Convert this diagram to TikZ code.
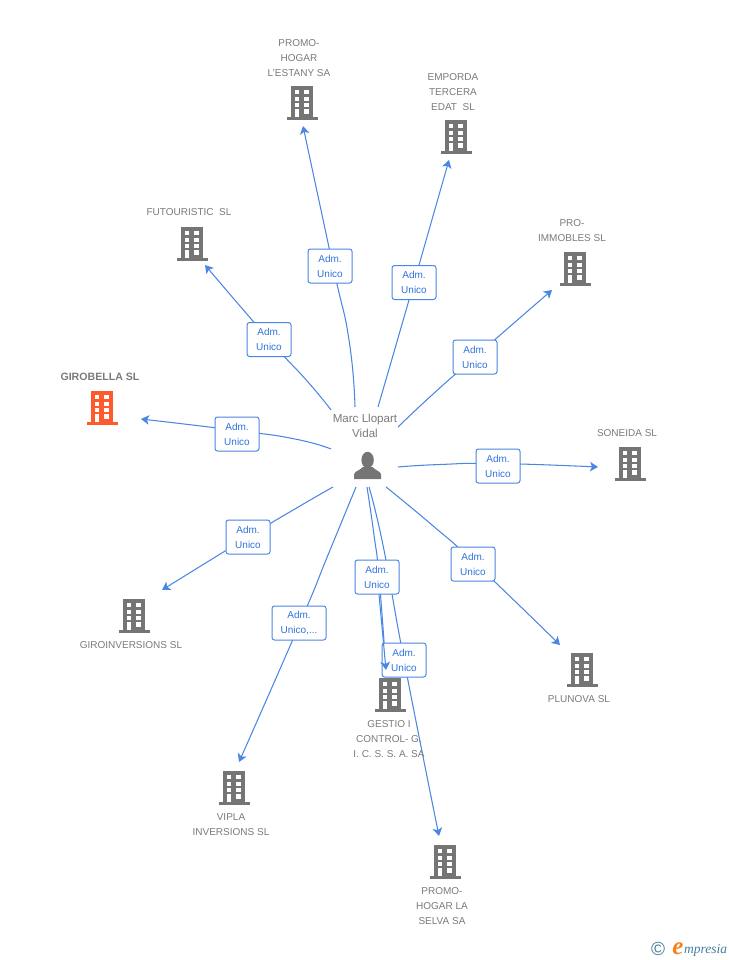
\documentclass[tikz,border=0pt]{standalone}
\usepackage{fontspec}
\setmainfont{Liberation Sans}
\newfontfamily\logofont{Liberation Serif}
\usetikzlibrary{arrows.meta,backgrounds}
\definecolor{linkblue}{HTML}{4A86E4}
\definecolor{admblue}{HTML}{2F74DC}
\definecolor{iconGray}{HTML}{757575}
\definecolor{textGray}{HTML}{7A7A7A}
\definecolor{hotOrange}{HTML}{FF5A2C}
\definecolor{logoTeal}{HTML}{3F7F98}
\definecolor{logoOrange}{HTML}{F58220}
\tikzset{
  conn/.style={draw=linkblue,line width=1.05pt},
  tipped/.style={-{Stealth[length=8pt,width=9.5pt,inset=2pt]}},
  admbox/.style={draw=linkblue,line width=1pt,rounded corners=2.5pt,fill=white,text=admblue,
    align=center,inner sep=0pt,minimum height=34pt,font=\fontsize{10}{15}\selectfont},
  firmtext/.style={text=textGray,align=center,inner sep=0pt,font=\fontsize{10}{15}\selectfont},
  firmslot/.style={inner sep=0pt,minimum width=31pt,minimum height=34pt},
  pics/firm/.style={code={
    \fill[#1] (-11,0) rectangle (11,31);
    \fill[#1] (-15.5,31) rectangle (15.5,34);
    \foreach \wy in {4,10.7,17.3} {
      \fill[white] (-7.5,\wy) rectangle (-2.7,\wy+4);
      \fill[white] (2,\wy) rectangle (7,\wy+4);
    }
    \fill[white] (-7.5,23.3) rectangle (-3,31);
    \fill[white] (2,23.3) rectangle (7,28);
  }}
}
\begin{document}
\begin{tikzpicture}[x=1pt,y=-1pt]
\useasboundingbox (0,0) rectangle (728,960);
% companies: key / x / top of icon / x of text / y of text / text
\foreach \k/\x/\y/\tx/\ty/\txt in {
  estany/302/86/299/58/{PROMO-\\HOGAR\\L'ESTANY SA},
  emporda/456/120/453/92/{EMPORDA\\TERCERA\\EDAT\ \ SL},
  immobles/575/252/572/230.5/{PRO-\\IMMOBLES SL},
  futour/192/227/189/212.5/{FUTOURISTIC\ \ SL},
  soneida/630/447/627/433.5/{SONEIDA SL},
  giroinv/134/599/131/645.5/{GIROINVERSIONS SL},
  plunova/582/653/579/699.5/{PLUNOVA SL},
  gestio/390/678/389/739.5/{GESTIO I\\CONTROL- G.\\I. C. S. S. A. SA},
  vipla/234/771/231/825/{VIPLA\\INVERSIONS SL},
  selva/445/845/442/906.5/{PROMO-\\HOGAR LA\\SELVA SA}}
{
  \pic at (\x,\y) {firm=iconGray};
  \node[firmslot] (b\k) at (\x,\y+17) {};
  \node[firmtext] (t\k) at (\tx,\ty) {\txt};
}
\pic at (102,391) {firm=hotOrange};
\node[firmslot] (bgiro) at (102,408) {};
\node[firmtext,font=\fontsize{10.6}{15}\selectfont\bfseries] (tgiro) at (100,377) {GIROBELLA SL};
% the person
\node[inner sep=0pt,minimum width=28pt,minimum height=28pt] (marc) at (367.5,465.5) {};
\fill[iconGray] (367.6,460) ellipse (6.2 and 8.2);
\fill[iconGray] (354,479.2) -- (354,474.5) .. controls (354.5,471) and (359,471) .. (363,467)
  -- (372.5,467) .. controls (376,471) and (380.5,471) .. (381,474.5) -- (381,479.2) -- cycle;
\node[firmtext,font=\fontsize{11.6}{15}\selectfont] (tmarc) at (365,425.5) {Marc Llopart\\Vidal};
% links: key / box / width / start / bend / shift at box / tip / text
\foreach \k/\lx/\ly/\bw/\sx/\sy/\vx/\vy/\ox/\oy/\ex/\ey/\txt in {
  estany/330/266/44/355/407/349/340/3/0/303/126/{Adm.\\Unico},
  emporda/414/282.5/44/378/407/396/345/0/0/449/160/{Adm.\\Unico},
  immobles/475/357/44/398/427/432/395/0/0/552/290/{Adm.\\Unico},
  futour/269/339.5/44/331/410/308/382/0/0/205/265/{Adm.\\Unico},
  giro/237/434/44/331/449/295/439/0/-3.5/141/419/{Adm.\\Unico},
  soneida/498/466/44/398/467/440/464.5/0/-2.5/598/467/{Adm.\\Unico},
  giroinv/248/537/44/333/487/300/506/0/0/162/590/{Adm.\\Unico},
  plunova/473/564/44/386/487/432/525/3/0/560/645/{Adm.\\Unico},
  vipla/299/623/54/356/487/328/555/1/0/239/762/{Adm.\\Unico,...},
  gestio/377/577/44/367/487/374/535/2/0/386/670/{Adm.\\Unico},
  selva/404/660/44/369/487/384/550/0/0/439/836/{Adm.\\Unico}}
{
  \node[admbox,minimum width=\bw pt] (adm\k) at (\lx,\ly) {\txt};
  \coordinate (from\k) at (\sx,\sy);
  \coordinate (bend\k) at (\vx,\vy);
  \coordinate (thru\k) at ([shift={(\ox,\oy)}]adm\k.center);
  \coordinate (tip\k) at (\ex,\ey);
  \begin{pgfonlayer}{background}
  \draw[conn,tipped] plot[smooth,tension=0.9] coordinates {(from\k) (bend\k) (thru\k) (tip\k)};
  \end{pgfonlayer}
}
% this one runs over the other box
\draw[conn,tipped] (admgestio.south) ++(2,0) -- (tipgestio);
% logo
\node[inner sep=0pt,text=logoTeal,font=\fontsize{19}{19}\selectfont] (copyr) at (658,949) {©};
\node[inner sep=0pt,text=logoOrange,font=\logofont\fontsize{25}{25}\selectfont\itshape\bfseries] (logoe) at (678,948.5) {e};
\node[inner sep=0pt,anchor=west,text=logoTeal,font=\logofont\fontsize{13.5}{14}\selectfont\itshape] (logow) at (684,950) {mpresia};
\end{tikzpicture}
\end{document}
